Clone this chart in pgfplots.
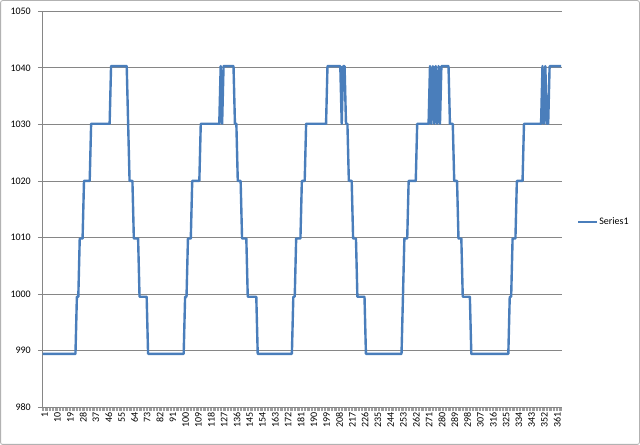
\documentclass[border=0pt]{standalone}
\usepackage{pgfplots}
\pgfplotsset{compat=1.18}
\usepackage{fontspec}
\setmainfont{Carlito}
\definecolor{serblue}{RGB}{74,126,187}
\definecolor{gridgray}{RGB}{134,134,134}
\definecolor{framegray}{RGB}{178,178,178}
\begin{document}
\begin{tikzpicture}[x=1bp,y=1bp]
\useasboundingbox (0,0) rectangle (640,445);
\draw[framegray, line width=0.8bp, rounded corners=2bp] (0.6,0.6) rectangle (639.4,444.4);
\begin{axis}[
  at={(42bp,38bp)}, anchor=south west,
  scale only axis, width=519.7bp, height=395.7bp,
  xmin=0.5, xmax=365.5, ymin=980, ymax=1050,
  axis lines*=left,
  axis line style={gridgray, line width=0.75bp},
  xtick={1,10,...,361},
  minor xtick={0.5,1.5,...,365.5},
  ytick={980,990,...,1050},
  ymajorgrids,
  grid style={gridgray, line width=0.75bp},
  tick align=outside,
  major tick length=4bp, minor tick length=4bp,
  major x tick style={draw=none},
  minor x tick style={gridgray!80, line width=0.5bp},
  y tick style={gridgray, line width=0.75bp},
  /pgf/number format/assume math mode=true,
  /pgf/number format/1000 sep={},
  tick label style={font=\fontsize{10bp}{12bp}\selectfont, text=black},
  xticklabel style={rotate=90, anchor=east, inner sep=1.5bp, yshift=-2bp},
  yticklabel style={anchor=east, inner sep=2bp, xshift=-5bp},
  legend style={at={(axis description cs:1.0294,0.468)}, anchor=west, draw=none, fill=none,
    inner sep=0pt, font=\fontsize{10bp}{12bp}\selectfont, nodes={inner sep=0.8bp}},
  legend image code/.code={\draw[#1] (0bp,0bp) -- (19bp,0bp);},
  clip=false,
]
\addplot[serblue, line width=2.4bp, line join=round, mark=none] coordinates {
(1,989.4) (24,989.4)
(25,999.5) (26,999.5)
(27,1009.8) (29,1009.8)
(30,1020.0) (34,1020.0)
(35,1030.1) (48,1030.1)
(49,1040.3) (60,1040.3)
(61,1030.1)
(62,1020.0) (64,1020.0)
(65,1009.8) (68,1009.8)
(69,999.5) (74,999.5)
(75,989.4) (100,989.4)
(101,999.5) (102,999.5)
(103,1009.8) (105,1009.8)
(106,1020.0) (111,1020.0)
(112,1030.1) (125,1030.1)
(126,1040.3)
(127,1030.1)
(128,1040.3) (135,1040.3)
(136,1030.1) (137,1030.1)
(138,1020.0) (140,1020.0)
(141,1009.8) (144,1009.8)
(145,999.5) (151,999.5)
(152,989.4) (176,989.4)
(177,999.5) (178,999.5)
(179,1009.8) (182,1009.8)
(183,1020.0) (185,1020.0)
(186,1030.1) (200,1030.1)
(201,1040.3) (210,1040.3)
(211,1030.1)
(212,1040.3) (213,1040.3)
(214,1030.1) (215,1030.1)
(216,1020.0) (218,1020.0)
(219,1009.8) (221,1009.8)
(222,999.5) (227,999.5)
(228,989.4) (253,989.4)
(254,999.5)
(255,1009.8) (257,1009.8)
(258,1020.0) (263,1020.0)
(264,1030.1) (272,1030.1)
(273,1040.3) (274,1030.1) (275,1040.3) (276,1030.1) (277,1040.3) (278,1030.1) (279,1040.3) (280,1030.1)
(281,1040.3) (286,1040.3)
(287,1030.1) (289,1030.1)
(290,1020.0) (292,1020.0)
(293,1009.8) (295,1009.8)
(296,999.5) (301,999.5)
(302,989.4) (328,989.4)
(329,999.5) (330,999.5)
(331,1009.8) (333,1009.8)
(334,1020.0) (338,1020.0)
(339,1030.1) (351,1030.1)
(352,1040.3) (353,1030.1) (354,1040.3) (355,1030.1) (356,1030.1)
(357,1040.3) (365,1040.3)
};
\addlegendentry{Series1}
\end{axis}
\end{tikzpicture}
\end{document}
